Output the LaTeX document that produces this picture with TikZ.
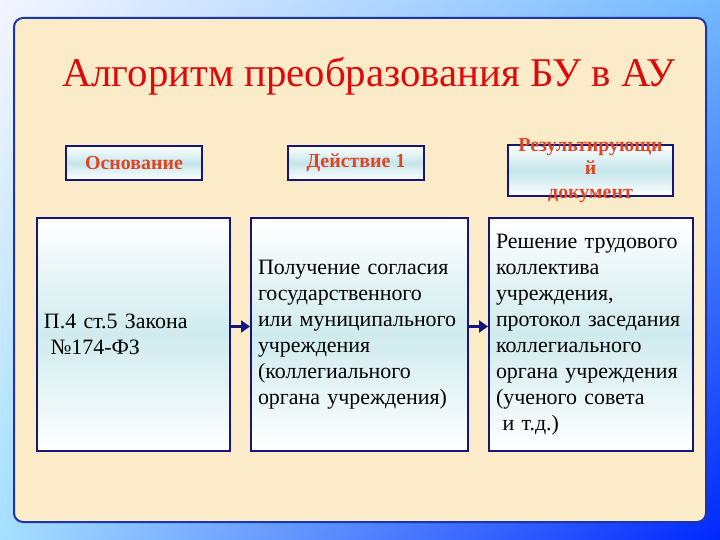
\documentclass[tikz,border=0pt]{standalone}
\usepackage{fontspec}
\setmainfont{Liberation Serif}
\usetikzlibrary{arrows.meta,shadings}

\definecolor{panelfill}{HTML}{FCEBC8}
\definecolor{panelline}{HTML}{1838A8}
\definecolor{boxline}{HTML}{16167A}
\definecolor{boxcyan}{HTML}{C4E6EA}
\definecolor{titlered}{HTML}{DD0A0A}
\definecolor{headred}{HTML}{DF4424}

\begin{document}
\begin{tikzpicture}[
    x=1bp,y=-1bp,
    headtext/.style={inner sep=0pt,
      font=\fontsize{20}{23.5}\selectfont\bfseries,text=headred,align=center},
    head/.style={draw=boxline,line width=2.2bp,inner sep=0pt,headtext,
      top color=white,bottom color=white,middle color=boxcyan},
    bigbox/.style={draw=boxline,line width=2bp,inner xsep=7bp,
      minimum height=233bp,
      top color=white,bottom color=white,middle color=boxcyan!80,
      font=\fontsize{22}{26}\selectfont,align=left},
    link/.style={-{Triangle[length=9bp,width=12bp]},line width=3.5bp,draw=boxline},
  ]

  % background
  \shade[upper left=blue!4,upper right=blue!50!cyan!55,
    lower left=blue!35!cyan!35,lower right=blue!85!cyan]
    (0,0) rectangle (720,540);
  \useasboundingbox (0,0) rectangle (720,540);

  % panel
  \draw[rounded corners=9bp,line width=2bp,draw=panelline,fill=panelfill]
    (14,18) rectangle (706,522);

  \node (title) at (369,76) [text=titlered,font=\fontsize{41}{48}\selectfont]
    {Алгоритм преобразования БУ в АУ};

  % headers
  \node (head-1) at (134,163) [head,minimum width=136bp,minimum height=34bp] {Основание};
  \node (head-2) at (356,163) [head,minimum width=136bp,minimum height=34bp] {Действие 1};
  \node (head-3) at (590.5,170.5) [head,minimum width=165bp,minimum height=51bp,
    label={[headtext]center:Результирующи\\й\\документ}] {};

  % boxes
  \node (box-1) at (133.5,334.5) [bigbox,text width=179bp]
    {П.4 ст.5 Закона\\\hspace{0.3em}№174-ФЗ};
  \node (box-2) at (359.5,334.5) [bigbox,text width=203bp]
    {Получение согласия\\государственного\\или муниципального\\учреждения\\(коллегиального\\органа учреждения)};
  \node (box-3) at (591,334.5) [bigbox,text width=190bp]
    {Решение трудового\\коллектива\\учреждения,\\протокол заседания\\коллегиального\\органа учреждения\\(ученого совета\\\hspace{0.3em}и т.д.)};

  \draw[link] ([yshift=8bp]box-1.east) -- ([yshift=8bp]box-2.west);
  \draw[link] ([yshift=8bp]box-2.east) -- ([yshift=8bp]box-3.west);

\end{tikzpicture}
\end{document}
